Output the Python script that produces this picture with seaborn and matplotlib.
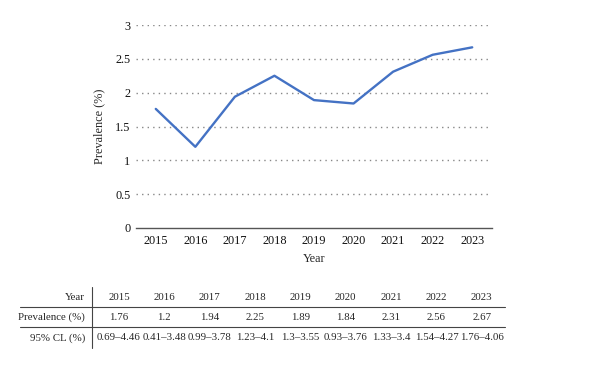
import numpy as np
import pandas as pd
import seaborn as sns
import matplotlib.pyplot as plt

# chart values
years = ['2015', '2016', '2017', '2018', '2019', '2020', '2021', '2022', '2023']
prevalence = [1.76, 1.2, 1.94, 2.25, 1.89, 1.84, 2.31, 2.56, 2.67]
prev_labels = ['1.76', '1.2', '1.94', '2.25', '1.89', '1.84', '2.31', '2.56', '2.67']
ci_labels = ['0.69\u20134.46', '0.41\u20133.48', '0.99\u20133.78', '1.23\u20134.1', '1.3\u20133.55',
             '0.93\u20133.76', '1.33\u20133.4', '1.54\u20134.27', '1.76\u20134.06']
row_names = ['Year', 'Prevalence (%)', '95% CL (%)']
y_ticks = [0, 0.5, 1, 1.5, 2, 2.5, 3]

sns.set_style('white')
plt.rcParams['font.family'] = ['Liberation Serif', 'DejaVu Serif']
fs = 8.8
tfs = 7.8

df = pd.DataFrame({'Year': years, 'Prevalence': prevalence})

fig = plt.figure(figsize=(6, 3.69), dpi=100)
ax = fig.add_axes([136 / 600, 1 - 228 / 369, 356 / 600, 203 / 369])

sns.lineplot(data=df, x='Year', y='Prevalence', ax=ax, color='#4472C4', linewidth=1.7, sort=False)
ax.set_xlim(-0.5, len(years) - 0.5)
ax.set_ylim(0, 3)
ax.set_yticks(y_ticks)
ax.set_yticklabels([f'{t:g}' for t in y_ticks], fontsize=fs)
ax.tick_params(axis='x', labelsize=fs, length=0, pad=5, colors='#111111')
ax.tick_params(axis='y', length=0, pad=4, colors='#111111')
for t in y_ticks[1:]:
    ax.axhline(t, color='#888888', linestyle=(0, (1, 3)), linewidth=1.0, zorder=0)
for s in ['top', 'right', 'left']:
    ax.spines[s].set_visible(False)
ax.spines['bottom'].set_color('#555555')
ax.spines['bottom'].set_linewidth(1.0)
ax.set_xlabel('Year', fontsize=fs, labelpad=4)
ax.set_ylabel('Prevalence (%)', fontsize=fs, labelpad=7)

# table below the chart
tx = fig.add_axes([92 / 600, 1 - 348 / 369, 413 / 600, 61 / 369])
tx.set_xlim(-0.595, 8.51)
tx.set_ylim(2.5, -0.5)
tx.axis('off')
rows = [years, prev_labels, ci_labels]
for r, (name, vals) in enumerate(zip(row_names, rows)):
    tx.text(-0.75, r, name, ha='right', va='center', fontsize=tfs, clip_on=False)
    for i, v in enumerate(vals):
        tx.text(i, r, v, ha='center', va='center', fontsize=tfs, clip_on=False)
for yl in [0.49, 1.46]:
    tx.plot([-2.18, 8.51], [yl, yl], color='#444444', linewidth=0.8, clip_on=False)
tx.plot([-0.595, -0.595], [-0.5, 2.5], color='#444444', linewidth=0.8, clip_on=False)

fig.savefig('out.png', dpi=100)
